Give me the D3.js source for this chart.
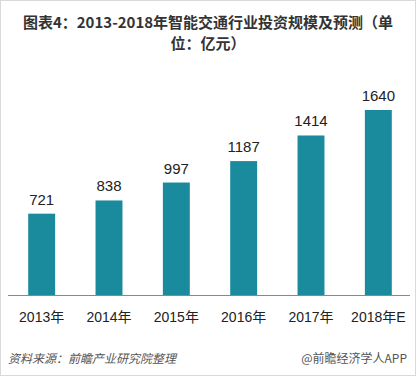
<!DOCTYPE html>
<html>
<head>
<meta charset="utf-8">
<script src="https://cdn.jsdelivr.net/npm/d3@7"></script>
<style>
body{margin:0;background:#fff;}
svg{display:block;font-family:"Microsoft YaHei","Noto Sans CJK SC",sans-serif;}
</style>
</head>
<body>
<div id="chart"></div>
<script>
var years = ["2013年","2014年","2015年","2016年","2017年","2018年E"];
var values = [721, 838, 997, 1187, 1414, 1640];
var titleLines = ["图表4：2013-2018年智能交通行业投资规模及预测（单", "位：亿元）"];

var width = 416, height = 376;
var svg = d3.select("#chart").append("svg")
  .attr("width", width).attr("height", height);

svg.append("rect")
  .attr("x", 0.5).attr("y", 0.5)
  .attr("width", width - 1).attr("height", height - 1)
  .attr("fill", "#fff").attr("stroke", "#d9d9d9");

// title
svg.append("g").selectAll("text")
  .data(titleLines)
  .enter().append("text")
  .attr("x", width / 2)
  .attr("y", function(d, i){ return 28 + i * 21; })
  .attr("text-anchor", "middle")
  .attr("font-size", 15)
  .attr("font-weight", "bold")
  .attr("fill", "#333")
  .text(function(d){ return d; });

var x = d3.scaleBand()
  .domain(years)
  .range([8, 412])
  .paddingInner(0.6)
  .paddingOuter(0.3);

var y = d3.scaleLinear()
  .domain([0, 1640])
  .range([295, 110]);

svg.append("g").selectAll("rect")
  .data(values)
  .enter().append("rect")
  .attr("x", function(d, i){ return x(years[i]); })
  .attr("y", function(d){ return y(d); })
  .attr("width", x.bandwidth())
  .attr("height", function(d){ return y(0) - y(d); })
  .attr("fill", "#1a8a9d");

svg.append("g").selectAll("text")
  .data(values)
  .enter().append("text")
  .attr("x", function(d, i){ return x(years[i]) + x.bandwidth() / 2; })
  .attr("y", function(d){ return y(d) - 9; })
  .attr("text-anchor", "middle")
  .attr("font-size", 15)
  .attr("fill", "#222")
  .attr("font-family", "Arial, 'Liberation Sans', sans-serif")
  .text(function(d){ return d; });

// x axis
var xAxis = svg.append("g")
  .attr("transform", "translate(0,295)")
  .call(d3.axisBottom(x).tickSize(0).tickPadding(17));
xAxis.select(".domain").attr("stroke", "#888").attr("d", "M8,0.5H410");
xAxis.selectAll("text")
  .attr("font-size", 14)
  .attr("fill", "#222")
  .attr("font-family", "Arial, 'Liberation Sans', 'Noto Sans CJK SC', sans-serif");

// footer
svg.append("text")
  .attr("x", 8).attr("y", 363)
  .attr("font-size", 12)
  .attr("font-style", "italic")
  .attr("fill", "#555")
  .text("资料来源：前瞻产业研究院整理");

svg.append("text")
  .attr("x", 407).attr("y", 363)
  .attr("text-anchor", "end")
  .attr("font-size", 12)
  .attr("fill", "#555")
  .text("@前瞻经济学人APP");
</script>
</body>
</html>
